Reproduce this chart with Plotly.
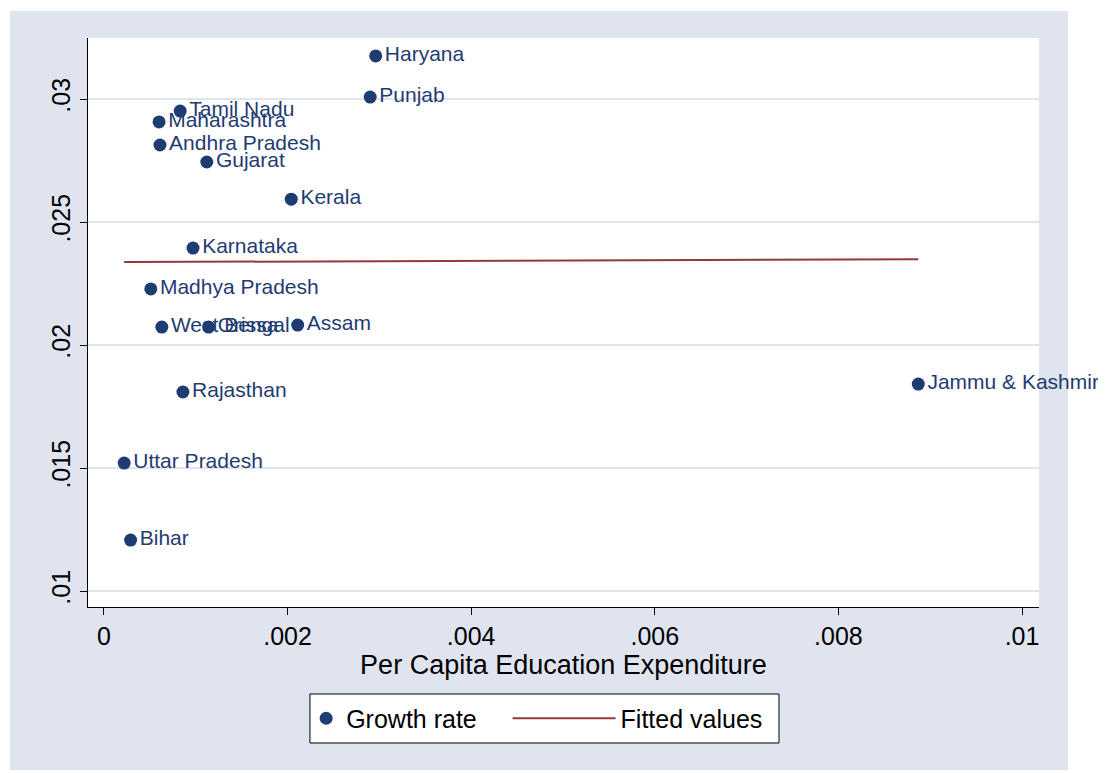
import plotly.graph_objects as go

# state-level values
states = ["Haryana", "Punjab", "Tamil Nadu", "Maharashtra", "Andhra Pradesh",
          "Gujarat", "Kerala", "Karnataka", "Madhya Pradesh", "West Bengal",
          "Orissa", "Assam", "Rajasthan", "Uttar Pradesh", "Bihar",
          "Jammu & Kashmir"]
edu_exp = [0.00296, 0.00290, 0.00083, 0.00060, 0.00061,
           0.00112, 0.00204, 0.00097, 0.00051, 0.00063,
           0.00114, 0.00211, 0.00086, 0.00022, 0.00029,
           0.00887]
growth = [0.03175, 0.03008, 0.02951, 0.02907, 0.02813,
          0.02744, 0.02593, 0.02394, 0.02228, 0.02073,
          0.02073, 0.02081, 0.01809, 0.01520, 0.01207,
          0.01841]

# fitted line end points
fit_x = [0.00022, 0.00887]
fit_y = [0.02337, 0.02349]

x_ticks = [0, 0.002, 0.004, 0.006, 0.008, 0.01]
x_labels = ["0", ".002", ".004", ".006", ".008", ".01"]
y_ticks = [0.01, 0.015, 0.02, 0.025, 0.03]
y_labels = [".01", ".015", ".02", ".025", ".03"]

navy = "#1f3c72"
maroon = "#903a40"
bg = "#dfe4ef"
font = "Liberation Sans, Arial, sans-serif"

fig = go.Figure()

fig.add_trace(go.Scatter(
    x=edu_exp, y=growth, mode="markers+text", name="Growth rate",
    text=states, textposition="middle right",
    textfont=dict(family=font, size=21, color=navy),
    marker=dict(color=navy, size=13),
    cliponaxis=False, legend="legend"
))

fig.add_trace(go.Scatter(
    x=fit_x, y=fit_y, mode="lines", name="Fitted values",
    line=dict(color=maroon, width=2), legend="legend2"
))

# grey outer region, white plot area, legend box
fig.add_shape(type="rect", xref="paper", yref="paper",
              x0=-0.082, x1=1.0305, y0=-0.2865, y1=1.0475,
              fillcolor=bg, line_width=0, layer="below")
fig.add_shape(type="rect", xref="paper", yref="paper",
              x0=0, x1=1, y0=0, y1=1,
              fillcolor="white", line_width=0, layer="below")
fig.add_shape(type="rect", xref="paper", yref="paper",
              x0=0.2334, x1=0.7266, y0=-0.239, y1=-0.1529,
              fillcolor="white", line=dict(color="black", width=1), layer="below")

fig.update_layout(
    width=1106, height=773,
    margin=dict(l=80, r=75, t=30, b=174),
    paper_bgcolor="white",
    plot_bgcolor="rgba(0,0,0,0)",
    font=dict(family=font, size=25, color="black"),
    showlegend=True,
    legend=dict(
        orientation="h", x=0.2294, xanchor="left", y=-0.196, yanchor="middle",
        bgcolor="rgba(0,0,0,0)", borderwidth=0, font=dict(size=25),
    ),
    legend2=dict(
        orientation="h", x=0.4412, xanchor="left", y=-0.196, yanchor="middle",
        bgcolor="rgba(0,0,0,0)", borderwidth=0, font=dict(size=25),
        itemwidth=103,
    ),
    xaxis=dict(
        range=[-0.000174, 0.010185],
        tickvals=x_ticks, ticktext=x_labels,
        ticks="outside", ticklen=7, tickcolor="black",
        showline=True, linecolor="black", linewidth=1,
        showgrid=False, zeroline=False,
        title=dict(text="Per Capita Education Expenditure", standoff=1,
                   font=dict(family=font, size=27)),
    ),
    yaxis=dict(
        range=[0.00935, 0.03248],
        tickvals=y_ticks, ticktext=y_labels, tickangle=-90,
        ticks="outside", ticklen=7, tickcolor="black",
        showline=True, linecolor="black", linewidth=1,
        showgrid=True, gridcolor=bg, gridwidth=2, zeroline=False,
    ),
)

fig.write_html("out.html")
